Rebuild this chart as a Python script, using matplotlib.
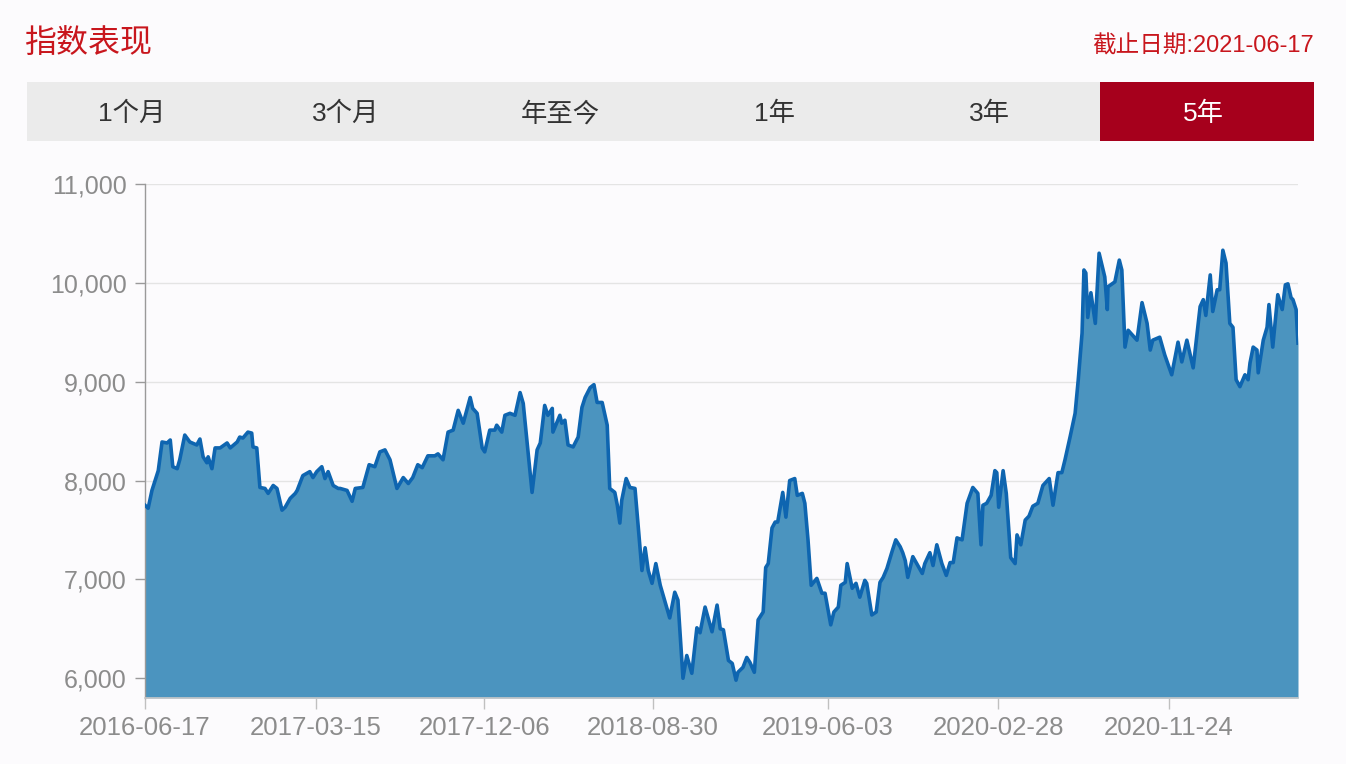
import matplotlib
matplotlib.use("Agg")
import matplotlib.pyplot as plt
from matplotlib.patches import Rectangle
from matplotlib.ticker import FuncFormatter
import pandas as pd

plt.rcParams['font.family'] = ['Liberation Sans', 'Noto Sans CJK SC', 'DejaVu Sans']

# ---------------- data ----------------
title = "指数表现"
as_of_label = "截止日期:2021-06-17"
tabs = ["1个月", "3个月", "年至今", "1年", "3年", "5年"]
active_tab = "5年"

dates = [
    "2016-06-17", "2016-06-22", "2016-06-28", "2016-07-08", "2016-07-14", "2016-07-22", "2016-07-27", "2016-07-31",
    "2016-08-07", "2016-08-11", "2016-08-19", "2016-08-27", "2016-09-07", "2016-09-12", "2016-09-17", "2016-09-23",
    "2016-09-25", "2016-10-01", "2016-10-06", "2016-10-14", "2016-10-25", "2016-10-30", "2016-11-10", "2016-11-14",
    "2016-11-19", "2016-11-27", "2016-12-03", "2016-12-05", "2016-12-11", "2016-12-16", "2016-12-24", "2016-12-29",
    "2017-01-06", "2017-01-12", "2017-01-20", "2017-01-25", "2017-02-02", "2017-02-10", "2017-02-13", "2017-02-22",
    "2017-03-05", "2017-03-10", "2017-03-16", "2017-03-24", "2017-03-29", "2017-04-03", "2017-04-11", "2017-04-19",
    "2017-04-22", "2017-05-03", "2017-05-11", "2017-05-16", "2017-05-28", "2017-06-07", "2017-06-16", "2017-06-24",
    "2017-07-02", "2017-07-10", "2017-07-21", "2017-07-31", "2017-08-08", "2017-08-15", "2017-08-23", "2017-08-30",
    "2017-09-08", "2017-09-19", "2017-09-24", "2017-10-02", "2017-10-10", "2017-10-18", "2017-10-26", "2017-11-03",
    "2017-11-14", "2017-11-18", "2017-11-25", "2017-12-03", "2017-12-07", "2017-12-15", "2017-12-23", "2017-12-26",
    "2018-01-03", "2018-01-08", "2018-01-16", "2018-01-24", "2018-02-01", "2018-02-06", "2018-02-20", "2018-02-28",
    "2018-03-05", "2018-03-12", "2018-03-17", "2018-03-24", "2018-03-25", "2018-04-05", "2018-04-08", "2018-04-13",
    "2018-04-18", "2018-04-26", "2018-05-04", "2018-05-10", "2018-05-15", "2018-05-23", "2018-05-29", "2018-06-03",
    "2018-06-11", "2018-06-19", "2018-06-23", "2018-07-01", "2018-07-05", "2018-07-09", "2018-07-12", "2018-07-19",
    "2018-07-25", "2018-08-02", "2018-08-13", "2018-08-18", "2018-08-23", "2018-08-29", "2018-09-04", "2018-09-11",
    "2018-09-26", "2018-10-04", "2018-10-09", "2018-10-17", "2018-10-23", "2018-10-31", "2018-11-08", "2018-11-13",
    "2018-11-21", "2018-12-02", "2018-12-10", "2018-12-15", "2018-12-20", "2018-12-28", "2019-01-03", "2019-01-09",
    "2019-01-12", "2019-01-20", "2019-01-26", "2019-01-31", "2019-02-07", "2019-02-13", "2019-02-21", "2019-02-25",
    "2019-03-01", "2019-03-07", "2019-03-12", "2019-03-16", "2019-03-24", "2019-03-29", "2019-04-04", "2019-04-12",
    "2019-04-16", "2019-04-24", "2019-04-28", "2019-05-03", "2019-05-08", "2019-05-17", "2019-05-25", "2019-05-30",
    "2019-06-08", "2019-06-13", "2019-06-20", "2019-06-24", "2019-07-01", "2019-07-04", "2019-07-12", "2019-07-18",
    "2019-07-24", "2019-08-01", "2019-08-04", "2019-08-12", "2019-08-19", "2019-08-25", "2019-08-30", "2019-09-05",
    "2019-09-13", "2019-09-19", "2019-09-26", "2019-09-30", "2019-10-04", "2019-10-08", "2019-10-16", "2019-10-24",
    "2019-10-31", "2019-11-04", "2019-11-12", "2019-11-17", "2019-11-23", "2019-12-01", "2019-12-08", "2019-12-14",
    "2019-12-19", "2019-12-25", "2020-01-02", "2020-01-10", "2020-01-19", "2020-01-27", "2020-02-01", "2020-02-04",
    "2020-02-10", "2020-02-17", "2020-02-23", "2020-02-26", "2020-02-29", "2020-03-07", "2020-03-12", "2020-03-19",
    "2020-03-26", "2020-03-29", "2020-04-04", "2020-04-11", "2020-04-17", "2020-04-23", "2020-05-01", "2020-05-09",
    "2020-05-19", "2020-05-25", "2020-06-02", "2020-06-08", "2020-06-13", "2020-06-21", "2020-06-29", "2020-07-04",
    "2020-07-10", "2020-07-13", "2020-07-16", "2020-07-19", "2020-07-24", "2020-07-31", "2020-08-06", "2020-08-15",
    "2020-08-19", "2020-08-20", "2020-08-31", "2020-09-07", "2020-09-11", "2020-09-16", "2020-09-21", "2020-10-05",
    "2020-10-13", "2020-10-21", "2020-10-26", "2020-10-30", "2020-11-10", "2020-11-18", "2020-11-29", "2020-12-09",
    "2020-12-15", "2020-12-23", "2021-01-02", "2021-01-13", "2021-01-18", "2021-01-22", "2021-01-29", "2021-02-02",
    "2021-02-09", "2021-02-13", "2021-02-18", "2021-02-23", "2021-03-01", "2021-03-06", "2021-03-11", "2021-03-17",
    "2021-03-25", "2021-03-30", "2021-04-02", "2021-04-07", "2021-04-13", "2021-04-15", "2021-04-23", "2021-04-29",
    "2021-05-02", "2021-05-08", "2021-05-16", "2021-05-23", "2021-05-28", "2021-06-01", "2021-06-06", "2021-06-09",
    "2021-06-14", "2021-06-17",
]

values = [
    7750, 7720, 7900, 8100, 8390, 8380, 8410, 8140,
    8120, 8210, 8460, 8390, 8360, 8420, 8240, 8180,
    8240, 8120, 8330, 8330, 8380, 8330, 8390, 8440,
    8430, 8490, 8480, 8340, 8330, 7930, 7920, 7870,
    7950, 7920, 7700, 7730, 7820, 7870, 7900, 8050,
    8090, 8030, 8090, 8140, 8020, 8090, 7950, 7920,
    7920, 7900, 7790, 7920, 7930, 8160, 8140, 8290,
    8310, 8210, 7920, 8030, 7970, 8030, 8160, 8130,
    8250, 8250, 8270, 8210, 8490, 8510, 8710, 8580,
    8840, 8730, 8680, 8330, 8290, 8510, 8510, 8560,
    8490, 8660, 8680, 8660, 8890, 8780, 7880, 8310,
    8380, 8760, 8660, 8730, 8490, 8660, 8580, 8610,
    8360, 8340, 8440, 8740, 8840, 8940, 8970, 8790,
    8790, 8560, 7920, 7880, 7750, 7570, 7800, 8020,
    7930, 7920, 7090, 7320, 7090, 6960, 7160, 6940,
    6610, 6870, 6790, 6000, 6230, 6050, 6510, 6460,
    6720, 6470, 6740, 6500, 6490, 6180, 6150, 5980,
    6060, 6110, 6210, 6160, 6060, 6590, 6670, 7120,
    7160, 7520, 7580, 7580, 7880, 7630, 8000, 8020,
    7850, 7870, 7770, 7400, 6940, 7010, 6860, 6860,
    6540, 6670, 6720, 6940, 6970, 7160, 6910, 6960,
    6820, 6990, 6960, 6640, 6670, 6970, 7020, 7110,
    7280, 7400, 7330, 7270, 7190, 7020, 7230, 7140,
    7060, 7160, 7270, 7140, 7350, 7160, 7040, 7170,
    7170, 7420, 7400, 7770, 7930, 7870, 7350, 7750,
    7770, 7850, 8100, 8080, 7730, 8100, 7870, 7220,
    7160, 7450, 7350, 7600, 7640, 7740, 7770, 7950,
    8020, 7750, 8080, 8080, 8210, 8440, 8680, 9020,
    9490, 10130, 10100, 9650, 9900, 9590, 10300, 10060,
    9730, 9960, 10010, 10230, 10130, 9350, 9520, 9420,
    9800, 9590, 9320, 9420, 9450, 9270, 9070, 9400,
    9200, 9420, 9140, 9760, 9830, 9670, 10080, 9710,
    9930, 9930, 10330, 10200, 9590, 9550, 9020, 8950,
    9070, 9020, 9190, 9350, 9320, 9090, 9420, 9550,
    9780, 9350, 9880, 9730, 9980, 9990, 9850, 9830,
    9730, 9390,
]

x_tick_labels = ["2016-06-17", "2017-03-15", "2017-12-06", "2018-08-30",
                 "2019-06-03", "2020-02-28", "2020-11-24"]
y_ticks = [6000, 7000, 8000, 9000, 10000, 11000]
y_min, y_max = 5800, 11000

# ---------------- styling ----------------
W, H = 1346, 764
BG = "#fcfbfd"
RED = "#c8161d"
TAB_BG = "#ebebeb"
TAB_ACTIVE = "#a6001c"
LINE = "#0e65b0"
FILL = "#4b94bf"
GREY_TXT = "#8c8c8c"

fig = plt.figure(figsize=(W / 100, H / 100), dpi=100, facecolor=BG)


def fx(px):
    return px / W


def fy(py):
    return 1 - py / H


# title and date
fig.text(fx(24), fy(44), title, color=RED, fontsize=23, ha="left", va="center",
         family=['Noto Sans CJK SC', 'DejaVu Sans'])
fig.text(fx(1314), fy(46), as_of_label, color=RED, fontsize=17, ha="right", va="center",
         family=['Liberation Sans', 'Noto Sans CJK SC', 'DejaVu Sans'])

# tab bar
tab_left, tab_right, tab_top, tab_bot = 27, 1314, 82, 141
tab_w = (tab_right - tab_left) / len(tabs)
fig.add_artist(Rectangle((fx(tab_left), fy(tab_bot)), fx(tab_right - tab_left),
                         (tab_bot - tab_top) / H, transform=fig.transFigure,
                         facecolor=TAB_BG, edgecolor="none"))
for i, t in enumerate(tabs):
    x0 = tab_left + i * tab_w
    active = (t == active_tab)
    if active:
        fig.add_artist(Rectangle((fx(x0), fy(tab_bot)), fx(tab_w), (tab_bot - tab_top) / H,
                                 transform=fig.transFigure, facecolor=TAB_ACTIVE, edgecolor="none"))
    fig.text(fx(x0 + tab_w / 2 - 3), fy(114), t, color="white" if active else "#333333",
             fontsize=19, ha="center", va="center",
             family=['Liberation Sans', 'Noto Sans CJK SC', 'DejaVu Sans'])

# chart axes
ax_l, ax_r, ax_t, ax_b = 145, 1298, 184, 698
ax = fig.add_axes([fx(ax_l), fy(ax_b), fx(ax_r - ax_l), (ax_b - ax_t) / H])
ax.set_facecolor(BG)

d = pd.to_datetime(dates)
ax.fill_between(d, values, y_min, color=FILL, linewidth=0, zorder=2)
ax.plot(d, values, color=LINE, linewidth=2.6, solid_joinstyle="round", zorder=3)

ax.set_xlim(pd.Timestamp(dates[0]), pd.Timestamp(dates[-1]))
ax.set_ylim(y_min, y_max)

ax.set_yticks(y_ticks)
ax.yaxis.set_major_formatter(FuncFormatter(lambda v, p: f"{int(v):,}"))
ax.set_xticks(pd.to_datetime(x_tick_labels))
ax.set_xticklabels(x_tick_labels)

ax.grid(axis="y", color="#e4e4e4", linewidth=1.0, zorder=1)
ax.grid(axis="x", visible=False)
for s in ["top", "right"]:
    ax.spines[s].set_visible(False)
ax.spines["left"].set_color("#9a9a9a")
ax.spines["left"].set_linewidth(1.0)
ax.spines["bottom"].set_color("#c8c8c8")
ax.spines["bottom"].set_linewidth(1.2)
ax.spines["bottom"].set_zorder(4)

ax.tick_params(axis="y", length=7, width=1.0, color="#9a9a9a", labelcolor=GREY_TXT,
               labelsize=18, pad=6)
ax.tick_params(axis="x", length=8, width=1.0, color="#c0c0c0", labelcolor=GREY_TXT,
               labelsize=18.5, pad=5)

fig.savefig("out.png", dpi=100, facecolor=BG)
